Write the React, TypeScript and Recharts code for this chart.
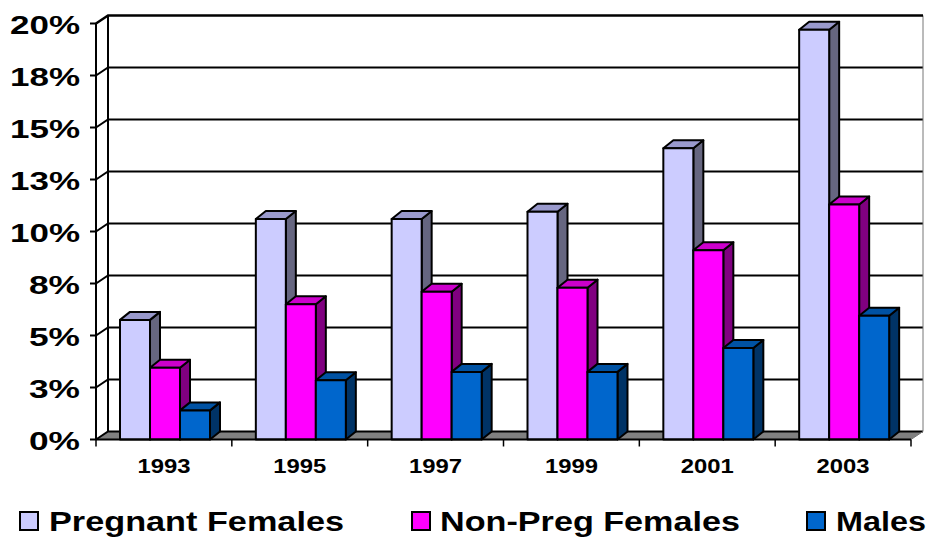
import { BarChart, Bar, XAxis, YAxis, CartesianGrid, Legend } from "recharts";

const years = ["1993", "1995", "1997", "1999", "2001", "2003"];
const pregnant = [5.75, 10.6, 10.6, 10.95, 14.0, 19.7];
const nonPreg = [3.45, 6.5, 7.1, 7.3, 9.1, 11.3];
const males = [1.4, 2.85, 3.25, 3.25, 4.4, 5.95];
const yTicks = [0, 2.5, 5, 7.5, 10, 12.5, 15, 17.5, 20];

const rows = years.map((year, i) => ({
  year,
  pregnant: pregnant[i],
  nonPreg: nonPreg[i],
  males: males[i],
}));

const FONT = '"Liberation Sans", Arial, sans-serif';
const WALL_X = 12;
const WALL_Y = 8;
const BAR_X = 10;
const BAR_Y = 8;
const BAR_NUDGE = 1;
const BAND = 135.83;

// 3D box: front, then top and side faces
function box(front: string, top: string, side: string) {
  return (p: any) => {
    const { y, width: w, height: h } = p;
    const x = p.x + BAR_NUDGE;
    if (h == null) return <g />;
    return (
      <g stroke="#000" strokeWidth={2} strokeLinejoin="round">
        <polygon
          points={`${x + w},${y} ${x + w + BAR_X},${y - BAR_Y} ${x + w + BAR_X},${y + h - BAR_Y} ${x + w},${y + h}`}
          fill={side}
        />
        <polygon
          points={`${x},${y} ${x + BAR_X},${y - BAR_Y} ${x + w + BAR_X},${y - BAR_Y} ${x + w},${y}`}
          fill={top}
        />
        <rect x={x} y={y} width={w} height={h} fill={front} />
      </g>
    );
  };
}

// grid line runs along the left wall, then across the back wall
function gridLine(p: any) {
  const { x1, x2, y1, y, height } = p;
  const atBottom = Math.abs(y1 - (y + height)) < 1;
  const atTop = Math.abs(y1 - y) < 1;
  const by = y1 - WALL_Y;
  return (
    <g key={p.key} fill="none">
      {atBottom && (
        <polygon
          points={`${x1},${y1} ${x1 + WALL_X},${by} ${x2 + WALL_X},${by} ${x2},${y1}`}
          fill="#808080"
          stroke="none"
        />
      )}
      {atTop && (
        <>
          <line x1={x1 + WALL_X} y1={by} x2={x1 + WALL_X} y2={y + height - WALL_Y} stroke="#000" strokeWidth={2} />
          <line x1={x2 + WALL_X} y1={by} x2={x2 + WALL_X} y2={y + height - WALL_Y} stroke="#777" strokeWidth={1} />
        </>
      )}
      <polyline
        points={`${x1},${y1} ${x1 + WALL_X},${by} ${x2 + WALL_X},${by}`}
        stroke="#000"
        strokeWidth={atTop ? 2.5 : 2}
      />
      {atBottom && <line x1={x2} y1={y1} x2={x2 + WALL_X} y2={by} stroke="#777" strokeWidth={1} />}
    </g>
  );
}

function YTick(p: any) {
  const label = `${Math.round(p.payload.value + 0.001)}%`;
  return (
    <text
      x={80}
      y={p.y + 10}
      textAnchor="end"
      fontFamily={FONT}
      fontWeight="bold"
      fontSize={26}
      fill="#000"
      textLength={label.length === 3 ? 70 : 51}
      lengthAdjust="spacingAndGlyphs"
    >
      {label}
    </text>
  );
}

function XTick(p: any) {
  const { x, y, index } = p;
  const left = x - BAND / 2;
  return (
    <g>
      <line x1={left} y1={y - 8} x2={left} y2={y - 1} stroke="#000" strokeWidth={1.5} />
      {index === years.length - 1 && (
        <line x1={x + BAND / 2} y1={y - 8} x2={x + BAND / 2} y2={y - 1} stroke="#000" strokeWidth={1.5} />
      )}
      <text
        x={x}
        y={y + 25}
        textAnchor="middle"
        fontFamily={FONT}
        fontWeight="bold"
        fontSize={21}
        fill="#000"
        textLength={53}
        lengthAdjust="spacingAndGlyphs"
      >
        {p.payload.value}
      </text>
    </g>
  );
}

const legendItems = [
  { name: "Pregnant Females", color: "#CCCCFF", sx: 20, tx: 49, tw: 295 },
  { name: "Non-Preg Females", color: "#FF00FF", sx: 412, tx: 440, tw: 300 },
  { name: "Males", color: "#0066CC", sx: 807, tx: 836, tw: 90 },
];

function LegendRow() {
  return (
    <svg width={929} height={38} style={{ display: "block" }}>
      {legendItems.map((it) => (
        <g key={it.name}>
          <rect x={it.sx} y={12} width={18} height={18} fill={it.color} stroke="#000" strokeWidth={2} />
          <text
            x={it.tx}
            y={31}
            fontFamily={FONT}
            fontWeight="bold"
            fontSize={28}
            fill="#000"
            textLength={it.tw}
            lengthAdjust="spacingAndGlyphs"
          >
            {it.name}
          </text>
        </g>
      ))}
    </svg>
  );
}

export default function App() {
  return (
    <div style={{ position: "absolute", left: 0, top: 0, width: 929, height: 538, background: "#fff" }}>
      <BarChart
        width={929}
        height={538}
        data={rows}
        margin={{ top: 23.5, right: 18, bottom: 8.5, left: 6 }}
        barSize={30}
        barGap={0}
        barCategoryGap={23}
      >
        <CartesianGrid vertical={false} horizontal={gridLine} />
        <XAxis
          dataKey="year"
          height={90}
          axisLine={{ stroke: "#000", strokeWidth: 2 }}
          tickLine={false}
          tick={XTick}
          interval={0}
        />
        <YAxis
          width={90}
          domain={[0, 20]}
          ticks={yTicks}
          interval={0}
          axisLine={{ stroke: "#000", strokeWidth: 2 }}
          tickLine={{ stroke: "#000", strokeWidth: 2 }}
          tickSize={6}
          tick={YTick}
        />
        <Bar dataKey="pregnant" name="Pregnant Females" fill="#CCCCFF" shape={box("#CCCCFF", "#9999CC", "#666680")} isAnimationActive={false} />
        <Bar dataKey="nonPreg" name="Non-Preg Females" fill="#FF00FF" shape={box("#FF00FF", "#CC00CC", "#800080")} isAnimationActive={false} />
        <Bar dataKey="males" name="Males" fill="#0066CC" shape={box("#0066CC", "#0052A3", "#003366")} isAnimationActive={false} />
        <Legend
          layout="horizontal"
          verticalAlign="middle"
          align="center"
          width={929}
          wrapperStyle={{ left: 0, top: 500, margin: 0, padding: 0 }}
          content={() => <LegendRow />}
        />
      </BarChart>
    </div>
  );
}
